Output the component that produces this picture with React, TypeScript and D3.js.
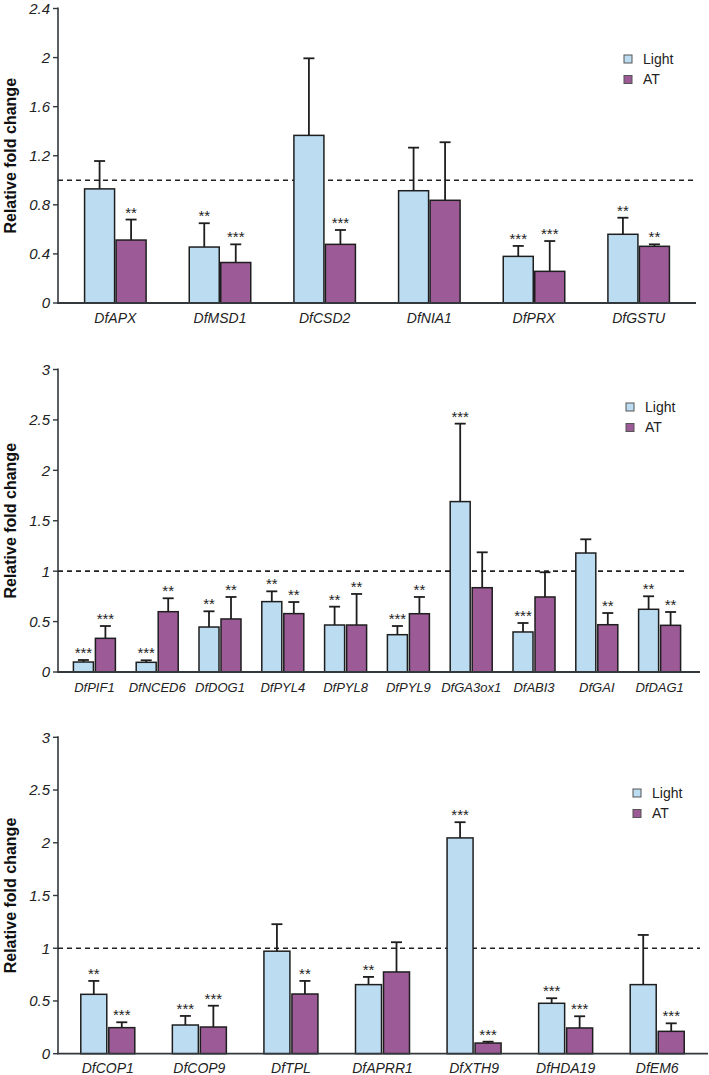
import React from "react";
import * as d3 from "d3";

// ---- Panel 1: oxidative stress genes ----
const genes1 = ["DfAPX", "DfMSD1", "DfCSD2", "DfNIA1", "DfPRX", "DfGSTU"];
const light1 = [0.93, 0.456, 1.366, 0.915, 0.38, 0.56];
const lightErr1 = [0.227, 0.194, 0.628, 0.351, 0.085, 0.135];
const at1 = [0.513, 0.33, 0.478, 0.837, 0.258, 0.462];
const atErr1 = [0.167, 0.148, 0.117, 0.473, 0.247, 0.016];
const sigLight1 = ["", "**", "", "", "***", "**"];
const sigAt1 = ["**", "***", "***", "", "***", "**"];
const ticks1 = [0, 0.4, 0.8, 1.2, 1.6, 2, 2.4];

// ---- Panel 2: hormone pathway genes ----
const genes2 = ["DfPIF1", "DfNCED6", "DfDOG1", "DfPYL4", "DfPYL8", "DfPYL9", "DfGA3ox1", "DfABI3", "DfGAI", "DfDAG1"];
const light2 = [0.099, 0.096, 0.446, 0.698, 0.466, 0.37, 1.69, 0.397, 1.18, 0.622];
const lightErr2 = [0.02, 0.02, 0.156, 0.102, 0.182, 0.086, 0.773, 0.089, 0.136, 0.129];
const at2 = [0.334, 0.598, 0.526, 0.579, 0.466, 0.578, 0.836, 0.744, 0.469, 0.463];
const atErr2 = [0.122, 0.133, 0.218, 0.115, 0.308, 0.166, 0.351, 0.245, 0.116, 0.132];
const sigLight2 = ["***", "***", "**", "**", "**", "***", "***", "***", "", "**"];
const sigAt2 = ["***", "**", "**", "**", "**", "**", "", "", "**", "**"];
const ticks2 = [0, 0.5, 1, 1.5, 2, 2.5, 3];

// ---- Panel 3: light signalling / cell wall genes ----
const genes3 = ["DfCOP1", "DfCOP9", "DfTPL", "DfAPRR1", "DfXTH9", "DfHDA19", "DfEM6"];
const light3 = [0.563, 0.272, 0.972, 0.655, 2.046, 0.478, 0.655];
const lightErr3 = [0.127, 0.086, 0.256, 0.073, 0.149, 0.048, 0.471];
const at3 = [0.247, 0.253, 0.566, 0.775, 0.101, 0.244, 0.212];
const atErr3 = [0.051, 0.202, 0.124, 0.282, 0.013, 0.111, 0.076];
const sigLight3 = ["**", "***", "", "**", "***", "***", ""];
const sigAt3 = ["***", "***", "**", "", "***", "***", "***"];
const ticks3 = [0, 0.5, 1, 1.5, 2, 2.5, 3];

const seriesNames = ["Light", "AT"];
const seriesColors = ["#bcdcf2", "#9c5a97"];

const FONT = "'Liberation Sans', Arial, Helvetica, sans-serif";
const AXIS = "#33383d";

type Panel = {
  genes: string[];
  values: number[][];
  errors: number[][];
  sig: string[][];
  ticks: number[];
  yMax: number;
  y0: number;
  y1: number;
  x0: number;
  x1: number;
  axisEnd: number;
  dashEnd: number;
  barW: number;
  gap: number;
  labelY: number;
  labelSize: number;
  legendX: number;
  legendY: number;
};

const panels: Panel[] = [
  {
    genes: genes1, values: [light1, at1], errors: [lightErr1, atErr1], sig: [sigLight1, sigAt1],
    ticks: ticks1, yMax: 2.4, y0: 303, y1: 8.5, x0: 63, x1: 691, axisEnd: 696, dashEnd: 693,
    barW: 30, gap: 1.5, labelY: 323, labelSize: 14, legendX: 628, legendY: 59,
  },
  {
    genes: genes2, values: [light2, at2], errors: [lightErr2, atErr2], sig: [sigLight2, sigAt2],
    ticks: ticks2, yMax: 3, y0: 672, y1: 369.5, x0: 63, x1: 691, axisEnd: 700, dashEnd: 688,
    barW: 20, gap: 2, labelY: 692, labelSize: 13, legendX: 630, legendY: 407,
  },
  {
    genes: genes3, values: [light3, at3], errors: [lightErr3, atErr3], sig: [sigLight3, sigAt3],
    ticks: ticks3, yMax: 3, y0: 1053.7, y1: 737.3, x0: 62, x1: 703, axisEnd: 708, dashEnd: 700,
    barW: 26, gap: 2, labelY: 1073, labelSize: 14, legendX: 637, legendY: 793,
  },
];

const AXIS_X = 58;

function BarPanel({ p }: { p: Panel }) {
  const y = d3.scaleLinear().domain([0, p.yMax]).range([p.y0, p.y1]);
  const x = d3.scaleBand<string>().domain(p.genes).range([p.x0, p.x1]);
  const fmt = (v: number) => d3.format("~g")(v);
  const yMid = (p.y0 + p.y1) / 2;

  return (
    <g>
      {/* y axis */}
      <line x1={AXIS_X} x2={AXIS_X} y1={p.y1 - 1} y2={p.y0} stroke={AXIS} strokeWidth={1.6} />
      {p.ticks.map((t) => (
        <g key={t}>
          <line x1={AXIS_X - 5} x2={AXIS_X} y1={y(t)} y2={y(t)} stroke={AXIS} strokeWidth={1.4} />
          <text x={AXIS_X - 8} y={y(t)} dy="0.36em" textAnchor="end" fontStyle="italic"
            fontSize={15} fontFamily={FONT} fill="#222">{fmt(t)}</text>
        </g>
      ))}
      <text transform={`translate(16,${yMid}) rotate(-90)`} textAnchor="middle" fontWeight="bold"
        fontSize={16} fontFamily={FONT} fill="#111">Relative fold change</text>

      {/* reference line at fold change 1 */}
      <line x1={AXIS_X} x2={p.dashEnd} y1={y(1)} y2={y(1)} stroke="#222" strokeWidth={1.6}
        strokeDasharray="5,4" />

      {/* bars with error bars and significance stars */}
      {p.genes.map((g, gi) => {
        const cx = (x(g) as number) + x.bandwidth() / 2;
        return (
          <g key={g}>
            {p.values.map((vals, si) => {
              const v = vals[gi];
              const top = y(v + p.errors[si][gi]);
              const bx = si === 0 ? cx - p.gap / 2 - p.barW : cx + p.gap / 2;
              const mx = bx + p.barW / 2;
              return (
                <g key={si}>
                  <line x1={mx} x2={mx} y1={y(v)} y2={top} stroke="#1e1e1e" strokeWidth={1.8} />
                  <line x1={mx - 5.5} x2={mx + 5.5} y1={top} y2={top} stroke="#1e1e1e" strokeWidth={1.8} />
                  <rect x={bx} y={y(v)} width={p.barW} height={p.y0 - y(v)} fill={seriesColors[si]}
                    stroke="#1e1e1e" strokeWidth={1.5} />
                  {p.sig[si][gi] && (
                    <text x={mx} y={top - 2} textAnchor="middle" fontSize={15} fontFamily={FONT}
                      fill="#222">{p.sig[si][gi]}</text>
                  )}
                </g>
              );
            })}
            <text x={cx} y={p.labelY} textAnchor="middle" fontStyle="italic" fontSize={p.labelSize}
              fontFamily={FONT} fill="#222">{g}</text>
          </g>
        );
      })}

      {/* x axis */}
      <line x1={AXIS_X - 1} x2={p.axisEnd} y1={p.y0} y2={p.y0} stroke={AXIS} strokeWidth={1.8} />

      {/* legend */}
      {seriesNames.map((s, i) => (
        <g key={s}>
          <rect x={p.legendX - 4} y={p.legendY + i * 20.5 - 4} width={8} height={8}
            fill={seriesColors[i]} stroke="#555" strokeWidth={1} />
          <text x={p.legendX + 15} y={p.legendY + i * 20.5} dy="0.35em" fontSize={14}
            fontFamily={FONT} fill="#222">{s}</text>
        </g>
      ))}
    </g>
  );
}

export default function App() {
  return (
    <svg width={709} height={1075} style={{ position: "absolute", left: 0, top: 0, background: "#fff" }}>
      <rect width={709} height={1075} fill="#fff" />
      {panels.map((p, i) => (
        <BarPanel key={i} p={p} />
      ))}
    </svg>
  );
}
